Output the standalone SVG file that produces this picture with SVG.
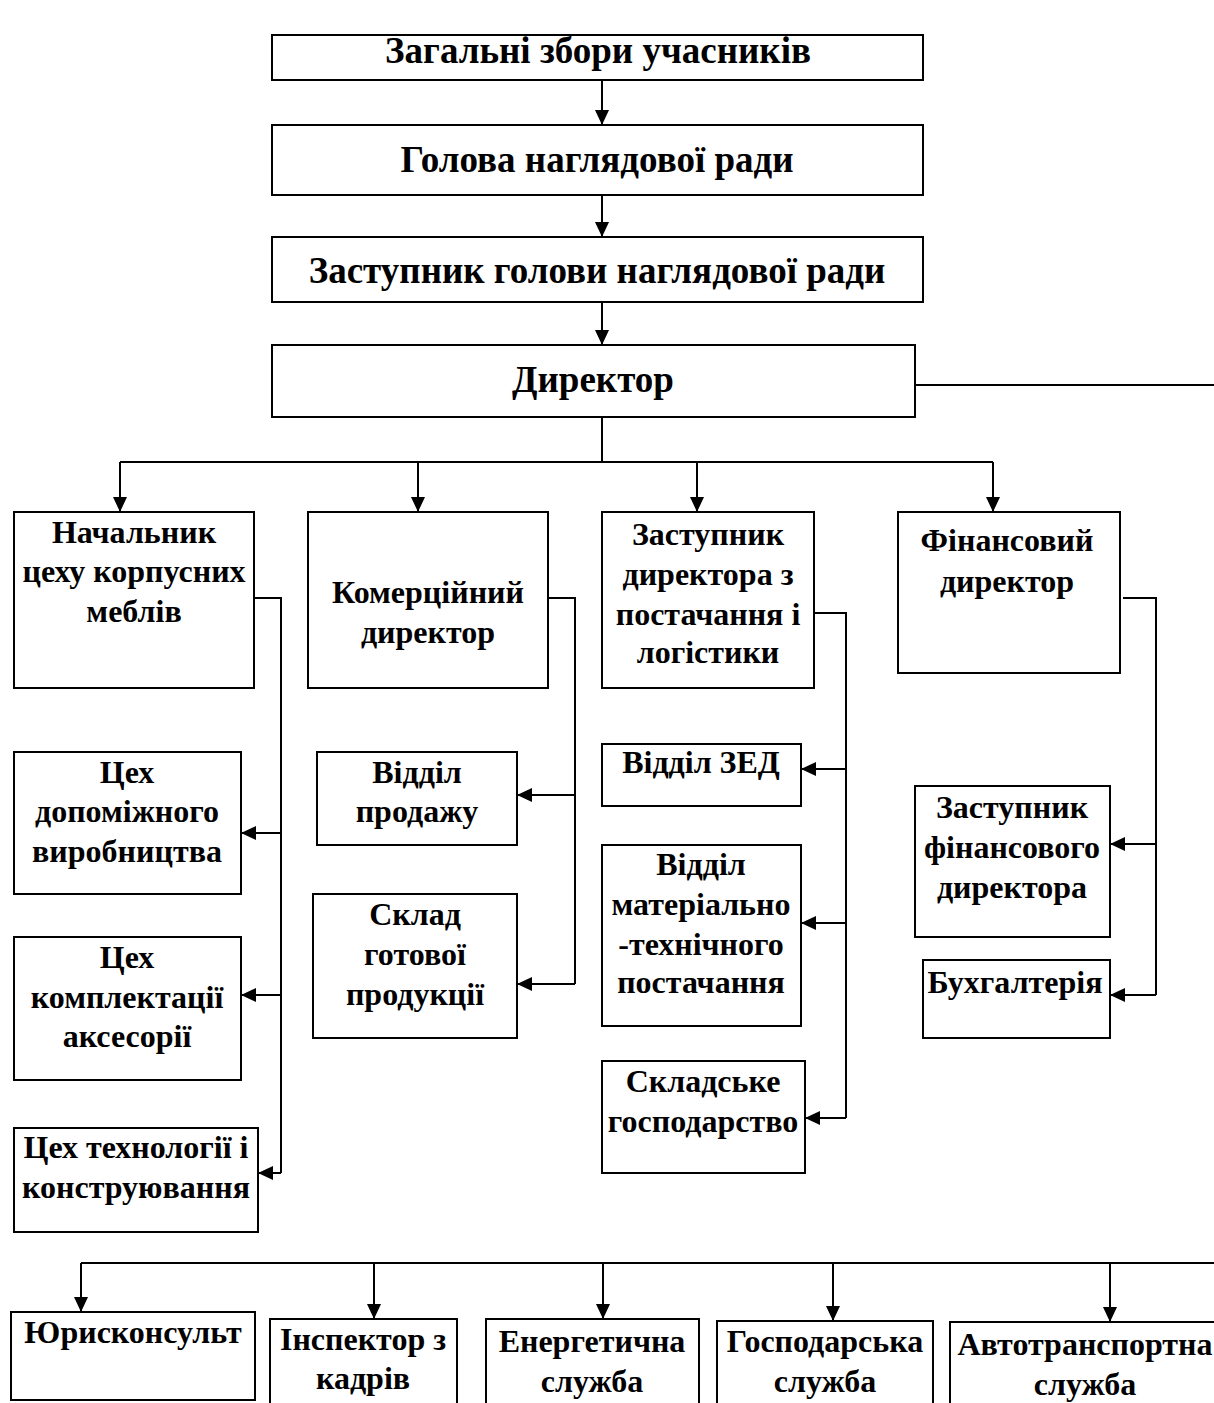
<svg xmlns="http://www.w3.org/2000/svg" width="1214" height="1403" viewBox="0 0 1214 1403">
<defs>
<marker id="ah" markerUnits="userSpaceOnUse" markerWidth="16" markerHeight="14" refX="15" refY="7" orient="auto">
<path d="M0,0 L15,7 L0,14 z" fill="#000"/>
</marker>
<style>
.box{fill:#fff;stroke:#000;stroke-width:2}
.t{font-family:"Liberation Serif","Times New Roman",serif;font-weight:bold;font-size:32px;text-anchor:middle;fill:#000}
.tt{font-size:37px}
.c{fill:none;stroke:#000;stroke-width:2}
.a{fill:none;stroke:#000;stroke-width:2;marker-end:url(#ah)}
</style>
</defs>
<rect width="1214" height="1403" fill="#fff"/>

<g id="connectors">
<line class="a" x1="602" y1="80" x2="602" y2="125"/>
<line class="a" x1="602" y1="195" x2="602" y2="237"/>
<line class="a" x1="602" y1="302" x2="602" y2="345"/>
<line class="c" x1="602" y1="417" x2="602" y2="462"/>
<line class="c" x1="915" y1="385" x2="1214" y2="385"/>
<line class="c" x1="120" y1="462" x2="993" y2="462"/>
<line class="a" x1="120" y1="462" x2="120" y2="512"/>
<line class="a" x1="418" y1="462" x2="418" y2="512"/>
<line class="a" x1="697" y1="462" x2="697" y2="512"/>
<line class="a" x1="993" y1="462" x2="993" y2="512"/>
<polyline class="c" points="254,598 281,598 281,1173"/>
<line class="a" x1="281" y1="833" x2="241" y2="833"/>
<line class="a" x1="281" y1="995" x2="241" y2="995"/>
<line class="a" x1="281" y1="1173" x2="258" y2="1173"/>
<polyline class="c" points="548,598 575,598 575,984"/>
<line class="a" x1="575" y1="795" x2="517" y2="795"/>
<line class="a" x1="575" y1="984" x2="517" y2="984"/>
<polyline class="c" points="814,613 846,613 846,1118"/>
<line class="a" x1="846" y1="769" x2="801" y2="769"/>
<line class="a" x1="846" y1="923" x2="801" y2="923"/>
<line class="a" x1="846" y1="1118" x2="805" y2="1118"/>
<polyline class="c" points="1123,598 1156,598 1156,995"/>
<line class="a" x1="1156" y1="844" x2="1110" y2="844"/>
<line class="a" x1="1156" y1="995" x2="1110" y2="995"/>
<line class="c" x1="81" y1="1263" x2="1214" y2="1263"/>
<line class="a" x1="81" y1="1263" x2="81" y2="1312"/>
<line class="a" x1="374" y1="1263" x2="374" y2="1319"/>
<line class="a" x1="603" y1="1263" x2="603" y2="1319"/>
<line class="a" x1="833" y1="1263" x2="833" y2="1321"/>
<line class="a" x1="1110" y1="1263" x2="1110" y2="1322"/>
</g>

<g id="n-zahalni"><rect class="box" x="272" y="35" width="651" height="45"/><text class="t tt" x="598" y="63">Загальні збори учасників</text></g>
<g id="n-holova"><rect class="box" x="272" y="125" width="651" height="70"/><text class="t tt" x="597" y="172">Голова наглядової ради</text></g>
<g id="n-zastupnyk-holovy"><rect class="box" x="272" y="237" width="651" height="65"/><text class="t tt" x="597" y="283">Заступник голови наглядової ради</text></g>
<g id="n-dyrektor"><rect class="box" x="272" y="345" width="643" height="72"/><text class="t tt" x="593" y="392">Директор</text></g>

<g id="n-nachalnyk"><rect class="box" x="14" y="512" width="240" height="176"/><text class="t" x="134" y="543">Начальник</text><text class="t" x="134" y="582">цеху корпусних</text><text class="t" x="134" y="622">меблів</text></g>
<g id="n-komertsiinyi"><rect class="box" x="308" y="512" width="240" height="176"/><text class="t" x="428" y="603">Комерційний</text><text class="t" x="428" y="643">директор</text></g>
<g id="n-zastupnyk-postach"><rect class="box" x="602" y="512" width="212" height="176"/><text class="t" x="708" y="545">Заступник</text><text class="t" x="708" y="585">директора з</text><text class="t" x="708" y="625">постачання і</text><text class="t" x="708" y="663">логістики</text></g>
<g id="n-finansovyi"><rect class="box" x="898" y="512" width="222" height="161"/><text class="t" x="1007" y="551">Фінансовий</text><text class="t" x="1007" y="592">директор</text></g>

<g id="n-tsekh-dopomizhnoho"><rect class="box" x="14" y="752" width="227" height="142"/><text class="t" x="127" y="783">Цех</text><text class="t" x="127" y="822">допоміжного</text><text class="t" x="127" y="862">виробництва</text></g>
<g id="n-tsekh-komplektatsii"><rect class="box" x="14" y="937" width="227" height="143"/><text class="t" x="127" y="968">Цех</text><text class="t" x="127" y="1008">комплектації</text><text class="t" x="127" y="1047">аксесорії</text></g>
<g id="n-tsekh-tekhnolohii"><rect class="box" x="14" y="1128" width="244" height="104"/><text class="t" x="136" y="1158">Цех технології і</text><text class="t" x="136" y="1198">конструювання</text></g>

<g id="n-viddil-prodazhu"><rect class="box" x="317" y="752" width="200" height="93"/><text class="t" x="417" y="783">Відділ</text><text class="t" x="417" y="822">продажу</text></g>
<g id="n-sklad"><rect class="box" x="313" y="894" width="204" height="144"/><text class="t" x="415" y="925">Склад</text><text class="t" x="415" y="965">готової</text><text class="t" x="415" y="1005">продукції</text></g>

<g id="n-zed"><rect class="box" x="602" y="744" width="199" height="62"/><text class="t" x="701" y="773">Відділ ЗЕД</text></g>
<g id="n-mtp"><rect class="box" x="602" y="845" width="199" height="181"/><text class="t" x="701" y="875">Відділ</text><text class="t" x="701" y="915">матеріально</text><text class="t" x="701" y="955">-технічного</text><text class="t" x="701" y="993">постачання</text></g>
<g id="n-skladske"><rect class="box" x="602" y="1061" width="203" height="112"/><text class="t" x="703" y="1092">Складське</text><text class="t" x="703" y="1132">господарство</text></g>

<g id="n-zastupnyk-fin"><rect class="box" x="915" y="786" width="195" height="151"/><text class="t" x="1012" y="818">Заступник</text><text class="t" x="1012" y="858">фінансового</text><text class="t" x="1012" y="898">директора</text></g>
<g id="n-bukhhalteriia"><rect class="box" x="923" y="960" width="187" height="78"/><text class="t" x="1015" y="993">Бухгалтерія</text></g>

<g id="n-yuryskonsult"><rect class="box" x="11" y="1312" width="244" height="88"/><text class="t" x="133" y="1343">Юрисконсульт</text></g>
<g id="n-inspektor"><rect class="box" x="270" y="1319" width="187" height="100"/><text class="t" x="363" y="1350">Інспектор з</text><text class="t" x="363" y="1389">кадрів</text></g>
<g id="n-enerhetychna"><rect class="box" x="486" y="1319" width="213" height="100"/><text class="t" x="592" y="1352">Енергетична</text><text class="t" x="592" y="1392">служба</text></g>
<g id="n-hospodarska"><rect class="box" x="717" y="1321" width="216" height="100"/><text class="t" x="825" y="1352">Господарська</text><text class="t" x="825" y="1392">служба</text></g>
<g id="n-avtotransportna"><rect class="box" x="950" y="1322" width="280" height="100"/><text class="t" x="1085" y="1355">Автотранспортна</text><text class="t" x="1085" y="1395">служба</text></g>
</svg>
